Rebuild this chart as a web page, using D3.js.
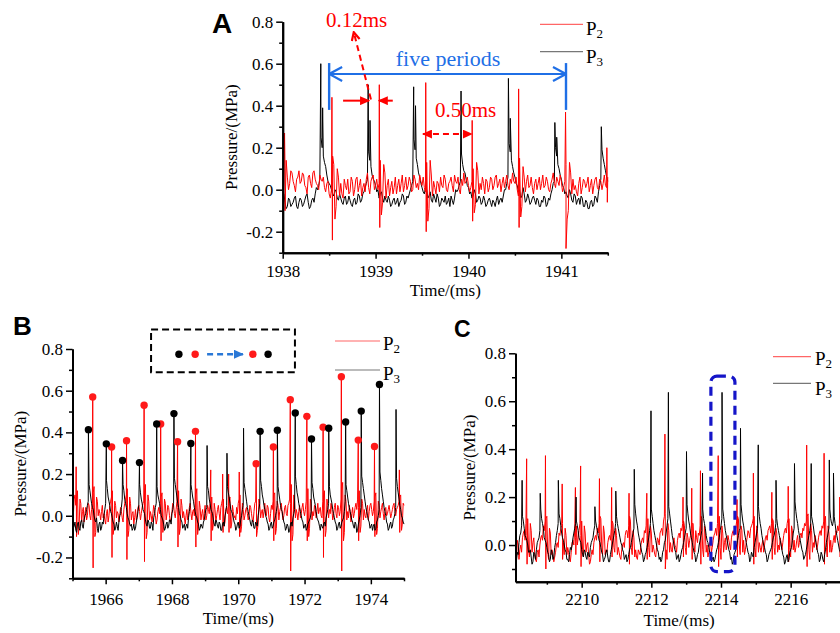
<!DOCTYPE html>
<html>
<head>
<meta charset="utf-8">
<script src="https://cdn.jsdelivr.net/npm/d3@7"></script>
<style>
  body { margin: 0; background: #fff; }
  svg { display: block; font-family: "Liberation Serif", serif; }
</style>
</head>
<body>
<svg id="chart" width="840" height="633"></svg>
<script>
// ---------- Panel A : 1938 - 1941.5 ms ----------
// samples in hundredths of MPa, one every aStep ms from aStart;
// *Mid arrays hold the samples half a step after each of those
const aStart = 1938, aStep = 0.025;
const aP3Base = [
  -3,-6,-8,-5,-7,-4,-8,-6,-5,-7,-3,-6,-8,-4,-2,0,
  5,20,13,7,3,
  0,-3,-1,-5,-4,-7,-3,-6,-5,-8,-4,-6,-3,-5,-1,
  3,18,11,5,2,
  0,-2,-4,-3,-6,-5,-7,-4,-6,-8,-5,-3,-6,-4,0,
  4,19,12,6,1,
  -2,0,-3,-5,-2,-6,-4,-7,-5,-3,-6,-8,-5,-4,-1,
  2,17,9,5,1,
  -1,-3,-2,-5,-4,-6,-5,-7,-4,-8,-6,-5,-7,-4,-3,0,
  6,18,11,6,2,
  0,-3,-2,-5,-4,-6,-3,-7,-5,-8,-6,-4,-7,-5,0,
  4,16,10,5,1,
  -1,-4,-2,-6,-3,-5,-7,-4,-8,-6,-9,-5,-7,-4,-1,
  5,15,9,4
];
const aP3Mid = [
  -2,-9,-4,-8,-6,-3,-9,-4,-8,-5,-2,-9,-5,-6,1,2,
  25,16,11,4,2,
  -2,0,-4,-2,-6,-4,-7,-3,-7,-5,-7,-2,-6,-2,1,
  5,14,7,4,-1,
  -4,-1,-6,-5,-3,-8,-5,-7,-4,-6,-2,-7,-3,-2,2,
  24,15,8,3,-1,
  1,-4,-1,-6,-4,-2,-8,-4,-6,-7,-4,-3,-7,0,0,
  4,12,8,2,-2,
  -4,0,-6,-3,-7,-3,-8,-5,-6,-5,-8,-3,-5,-6,0,3,
  22,14,8,3,-1,
  -4,1,-6,-2,-7,-4,-5,-4,-8,-5,-3,-8,-4,-2,3,
  20,12,7,2,-2,
  -3,0,-5,-2,-7,-4,-3,-8,-5,-9,-6,-8,-3,-6,2,
  19,12,6
];
const aP2Base = [
  -6,
  10,6,3,8,2,5,9,4,7,1,6,3,8,5,2,7,4,1,3,-2,
  0,12,-8,6,
  3,-4,2,5,-1,4,0,6,2,-3,3,5,1,4,7,2,0,
  14,-6,8,
  2,-3,4,1,-2,5,3,-1,6,2,4,0,5,3,7,2,1,
  13,-9,7,
  4,-2,3,6,1,5,-1,4,2,7,3,0,5,8,4,2,1,
  10,-7,9,
  3,6,-2,4,1,5,2,7,3,-1,6,4,2,5,8,3,0,
  15,-8,6,
  4,1,6,-2,5,3,0,7,2,4,-1,5,3,6,2,4,1,
  12,-10,8,
  5,2,-3,6,1,4,3,-1,5,2,6,0,4,3,2,
  6
];
const aP2Mid = [
  3,
  14,0,9,4,-1,6,3,8,2,-2,7,1,9,3,0,5,6,-1,4,-4,
  16,-14,10,-3,
  -2,5,0,-2,6,-3,5,-1,5,1,-1,8,-2,6,0,5,3,
  -12,12,-4,
  5,1,-2,6,2,-1,7,2,0,6,-1,7,1,0,4,6,-1,
  -15,14,-3,
  1,4,-1,2,7,0,3,6,-1,4,6,-2,2,3,6,-1,4,
  -11,13,-2,
  0,3,5,-1,6,0,6,1,5,3,1,7,0,3,4,6,-3,
  -13,11,-1,
  7,2,1,3,0,6,3,1,6,0,3,8,1,4,7,-1,4,
  -14,13,-2,
  0,-1,3,-2,5,1,6,2,-2,5,1,5,0,7,1
];
const aP3SpikeT = [1938.41, 1938.43, 1938.92, 1938.94, 1939.41, 1939.43, 1939.92, 1940.43, 1940.45, 1940.93, 1940.95, 1941.43];
const aP3SpikeV = [0.60, 0.39, 0.50, 0.33, 0.49, 0.40, 0.47, 0.53, 0.34, 0.32, 0.25, 0.30];
const aP2SpikeT = [1938.02, 1938.53, 1939.04, 1939.54, 1940.04, 1940.54, 1941.045, 1941.49];
const aP2SpikeV = [0.27, 0.44, 0.50, 0.51, 0.33, 0.48, 0.37, 0.20];
const aP2DipV   = [-0.10, -0.24, -0.18, -0.20, -0.15, -0.18, -0.28, -0.06];
const aXTicks = [1938, 1939, 1940, 1941];
const aXMinor = [1938.5, 1939.5, 1940.5, 1941.5];

// ---------- Panel B : 1965 - 1975 ms ----------
const bStart = 1965, bStep = 0.05;
const bP3Base = [
  -2,-5,-7,-4,-6,-3,-5,-2,1,
  5,15,9,4,0,
  -3,-6,-4,-7,-3,0,
  6,13,7,2,-1,
  -4,-6,-5,-3,1,
  8,12,6,1,-2,
  -5,-7,-4,-6,-1,
  5,11,6,2,-2,
  -5,-3,-6,-4,-1,
  4,14,8,3,-1,
  -4,-6,-3,-5,-2,1,
  6,15,9,4,0,
  -3,-5,-7,-4,-1,
  5,12,7,2,-1,
  -4,-6,-5,-3,1,
  4,12,6,2,-2,
  -5,-3,-6,-4,-7,-3,0,
  5,11,6,2,-1,
  -4,-6,-3,-5,0,
  5,13,7,2,-2,
  -5,-3,-6,-4,0,
  6,14,8,3,-1,
  -4,-6,-3,-5,-2,2,
  14,8,3,-1,
  -4,-6,-5,-7,-3,-1,3,
  15,9,4,0,
  -3,-5,-7,-4,-2,2,
  13,7,2,-2,
  -5,-4,-6,-3,-1,3,
  14,8,3,-1,
  -4,-6,-3,-5,-2,2,
  15,9,4,0,
  -3,-6,-4,-7,-2,4,
  16,10,4,0,
  -3,-5,-7,-4,-6,-2,3,
  17,10,4,0,
  -4,-6,-3,-5,-1,4,
  14,8,3,-1,-4
];
const bP3Mid = [
  -6,-3,-8,-3,-7,-2,-6,0,3,
  7,12,6,3,-2,
  -1,-8,-3,-6,-4,3,
  17,9,5,1,-3,
  -7,-3,-7,0,4,
  15,8,4,-1,-4,
  -4,-6,-7,-3,2,
  15,8,3,1,-4,
  -2,-6,-3,-7,1,
  6,10,6,0,-2,
  -7,-4,-6,-2,-4,3,
  18,12,6,1,-2,
  -6,-4,-5,-6,2,
  15,9,4,0,-3,
  -7,-4,-6,-2,3,
  14,8,3,1,-4,
  -2,-5,-3,-7,-4,-5,2,
  14,9,3,1,-3,
  -7,-4,-6,-2,3,
  16,10,4,0,-4,
  -2,-6,-3,-5,3,
  17,10,5,0,-3,
  -7,-4,-6,-3,0,5,
  11,5,2,-3,
  -7,-4,-8,-4,-5,1,19,
  11,6,2,-2,
  -6,-4,-6,-3,-1,16,
  9,5,-1,-3,
  -7,-5,-4,-5,1,6,
  10,6,1,-3,
  -7,-4,-6,-3,-1,7,
  12,6,2,-2,
  -5,-3,-8,-4,0,19,
  13,7,2,-2,
  -6,-4,-5,-7,-3,0,21,
  13,7,2,-3,
  -7,-4,-6,-2,1,18,
  11,5,0,-3
];
const bP2Base = [
  3,8,5,
  12,-5,6,
  2,-3,4,0,5,-2,6,
  14,-8,7,
  3,-2,5,1,-4,3,0,7,
  12,-6,5,
  2,-3,4,-1,3,8,
  13,-7,6,
  1,-4,3,0,5,-2,4,7,
  15,-8,7,
  2,-3,5,0,-2,4,6,
  11,-5,6,
  1,4,-3,2,5,-1,7,
  12,-6,5,
  2,-4,3,0,6,-2,3,6,
  13,-5,4,
  1,-2,5,0,3,6,
  9,-4,3,
  0,5,-2,6,
  8,-3,4,5,
  9,-4,2,
  0,4,6,
  10,-5,3,
  0,4,-2,5,1,-3,6,
  9,-4,5,
  2,-1,6,0,4,-3,5,7,
  11,-6,5,
  2,6,-2,4,1,5,8,
  15,-9,7,
  3,-2,5,1,6,0,7,
  13,-6,6,
  2,5,-1,6,3,0,7,
  12,-7,5,
  3,6,-2,4,1,5,0,8,
  16,-8,7,
  2,5,-3,4,1,6,8,
  12,-5,6,
  3,-1,5,2,6,0,7,
  11,-6,5,
  2,6,-2,4,1,5,-1,3,6,0,4,7,
  10,-4,5
];
const bP2Mid = [
  0,10,9,
  -9,8,-3,
  4,1,-2,6,0,3,11,
  -10,9,0,
  1,2,-1,-2,1,-3,5,9,
  -9,7,-1,
  1,0,2,-3,6,10,
  -10,9,-2,
  2,-1,-2,4,2,1,6,12,
  -11,10,-2,
  0,1,3,-4,2,1,9,
  -8,8,-2,
  5,0,-1,6,1,3,4,
  -9,8,-1,
  -1,0,-2,4,1,2,0,10,
  -9,7,-2,
  3,1,-2,5,1,3,
  -7,6,-3,
  3,1,4,8,
  -5,3,1,8,
  -6,5,-1,
  -2,1,8,
  -8,6,-2,
  3,1,0,4,-2,2,7,
  -7,8,-1,
  3,2,1,5,-1,1,3,10,
  -9,7,-2,
  4,1,0,5,0,6,6,
  -12,10,-1,
  1,2,-1,4,2,3,5,
  -10,8,-2,
  0,3,2,1,4,-1,10,
  -10,8,-1,
  1,3,0,6,-1,4,2,12,
  -12,10,-2,
  -1,2,1,-1,4,3,4,
  -8,8,-2,
  0,3,-2,5,3,2,9,
  -9,7,-1,
  4,1,2,0,3,2,1,5,2,3,5,9,
  -7,6
];
const bP3SpikeT = [1965.48, 1966.02, 1966.51, 1967.02, 1967.54, 1968.06, 1968.57, 1969.06, 1969.66, 1970.16,
                   1970.66, 1971.18, 1971.72, 1972.21, 1972.73, 1973.24, 1973.71, 1974.26, 1974.76];
const bP3SpikeV = [0.413, 0.345, 0.265, 0.255, 0.44, 0.49, 0.347, 0.337, 0.30, 0.42,
                   0.405, 0.41, 0.493, 0.368, 0.42, 0.45, 0.502, 0.63, 0.51];
const bP3Marked = [1, 1, 1, 1, 1, 1, 1, 0, 0, 0, 1, 1, 1, 1, 1, 1, 1, 1, 0];
const bP2SpikeT = [1965.11, 1965.61, 1966.18, 1966.63, 1967.16, 1967.66, 1968.17, 1968.71, 1969.17, 1969.53, 1969.71,
                   1970.03, 1970.54, 1971.06, 1971.57, 1972.07, 1972.56, 1973.11, 1973.62, 1974.11, 1974.86];
const bP2SpikeV = [0.235, 0.57, 0.33, 0.36, 0.53, 0.44, 0.355, 0.405, 0.22, 0.20, 0.20,
                   0.21, 0.25, 0.33, 0.557, 0.477, 0.425, 0.667, 0.363, 0.332, 0.22];
const bP2DipV   = [-0.10, -0.25, -0.20, -0.21, -0.22, -0.12, -0.15, -0.15, -0.12, -0.08, -0.08,
                   -0.10, -0.10, -0.12, -0.265, -0.12, -0.20, -0.265, -0.12, -0.10, -0.08];
const bP2Marked = [0, 1, 1, 1, 1, 1, 1, 1, 0, 0, 0, 0, 1, 1, 1, 1, 1, 1, 1, 1, 0];
const bXTicks = [1966, 1968, 1970, 1972, 1974];
const bXMinor = [1965, 1967, 1969, 1971, 1973, 1975];

// ---------- Panel C : 2208.1 - 2217.5 ms ----------
const cStart = 2208.1, cStep = 0.05;
const cP3Base = [
  -6,-3,1,5,
  12,7,3,0,-3,
  -5,-7,-4,-2,2,6,
  11,7,2,-1,-4,
  -6,-3,-5,1,6,
  13,8,3,0,-3,
  -6,-4,-2,3,7,
  10,6,2,-2,-5,
  -3,-6,-4,-1,2,6,
  10,6,2,-1,-4,
  -6,-3,-5,-7,-2,2,6,
  12,7,3,0,-3,
  -5,-7,-4,-1,3,7,
  13,8,3,-1,-4,
  -6,-3,1,6,
  15,9,4,0,-3,
  -5,-6,-2,2,8,
  16,10,4,0,-3,
  -5,-7,-4,-1,3,7,
  13,8,3,-1,-4,
  -6,-3,2,6,
  11,7,2,-1,-4,
  -6,-7,-4,-1,3,8,
  15,9,4,0,-3,
  -5,-7,-3,0,4,7,
  13,8,3,-1,-4,
  -6,-4,-1,3,7,
  12,7,2,-1,-4,
  -6,-3,-1,3,6,
  11,6,2,-2,-5,
  -7,-4,-6,-2,2,7,
  14,9,4,0,-3,
  -5,-2,2,6,
  12,8,3,-1,-4,
  -6,-4,-7,-2,3,7,
  11,8,
  12,6,2,-2,-5,-4
];
const cP3Mid = [
  -7,-4,4,8,
  10,4,2,-3,-2,
  -8,-3,-6,1,3,15,
  9,3,1,-3,-7,
  -2,-6,-1,4,9,
  11,5,2,-2,-6,
  -7,-1,0,5,9,
  8,3,1,-4,-2,
  -5,-3,-5,1,3,8,
  8,4,1,-3,-7,
  -5,-2,-7,-4,0,4,9,
  9,5,1,-2,-6,
  -4,-6,-2,1,5,17,
  10,5,1,-3,-7,
  -4,-1,3,9,
  12,6,2,-2,-6,
  -7,-3,1,5,11,
  13,7,2,-2,-6,
  -4,-6,-2,1,5,17,
  10,5,1,-3,-7,
  -4,0,4,15,
  9,4,1,-3,-7,
  -5,-6,-2,1,6,11,
  12,6,2,-2,-6,
  -8,-4,-2,2,6,17,
  10,5,1,-3,-7,
  -3,-5,1,5,16,
  9,4,0,-3,-7,
  -4,-2,1,4,9,
  8,4,0,-4,-8,
  -5,-7,-3,-1,5,18,
  11,6,2,-2,-6,
  -4,0,4,9,
  10,5,1,-3,-7,
  -3,-6,-4,1,5,15,
  9,10,
  9,4,0,-3,-7
];
const cP2Base = [
  -4,2,-6,0,3,6,9,
  11,-5,6,
  1,-3,-7,-2,0,4,8,10,
  12,-6,5,
  -2,-7,-3,1,5,7,
  9,-4,4,
  -1,-6,-3,2,6,
  8,3,9,
  10,-5,5,
  0,-4,-7,-2,1,4,7,9,
  11,-4,5,
  -2,1,4,7,
  9,-3,4,
  -1,-5,-2,1,4,6,8,
  10,-4,3,
  -2,-6,-3,0,3,6,8,
  11,-5,5,
  0,-4,-1,2,5,7,10,
  13,-6,6,
  1,-3,3,-1,2,5,7,9,
  8,-4,3,2,7,
  9,-3,3,5,8,
  11,-5,5,
  0,-3,2,-1,4,7,9,
  12,-6,5,
  1,-2,4,0,3,6,8,10,
  11,-4,6,
  2,-2,3,5,7,9,
  12,-5,5,
  1,-3,2,0,4,6,8,9,
  10,-4,5,
  0,3,-2,4,7,9,
  11,-5,6,
  2,-1,4,1,5,7,9,10,
  13,-6,6,
  1,4,-2,3,6,8,10,
  12,-5,5,
  2,-1,4,6,8,9,
  10,-3
];
const cP2Mid = [
  -7,0,-2,-3,5,2,4,
  -2,9,-3,
  3,-6,-3,-5,3,2,6,11,
  -3,7,-4,
  -4,-5,0,-1,4,8,
  1,7,-4,
  -3,-7,1,0,3,
  0,6,4,
  -2,8,-3,
  1,-8,-4,-4,3,2,5,12,
  0,8,-4,
  -3,3,2,10,
  -1,7,-4,
  -3,-6,0,-1,6,3,12,
  -1,6,-5,
  -5,-2,-4,2,1,5,4,
  -1,8,-3,
  -2,-5,3,0,6,4,12,
  -2,9,-3,
  -2,1,0,-3,4,3,6,10,
  -1,5,-1,4,9,
  0,6,1,4,12,
  -2,8,-3,
  -5,1,-3,2,5,4,5,
  -1,8,-3,
  3,0,2,-2,5,4,7,12,
  0,8,-3,
  -4,1,6,3,8,11,
  -1,8,-3,
  -1,0,-3,3,2,7,5,11,
  -1,7,-3,
  -2,1,1,6,5,11,
  -1,8,-2,
  -3,2,-1,4,3,6,8,12,
  -2,9,-3,
  -1,2,0,5,4,7,11,
  -1,8,-3,
  -3,2,1,5,6,11,
  2
];
const cP3SpikeT = [2208.29, 2208.81, 2209.33, 2209.84, 2210.38, 2210.98, 2211.51, 2211.99, 2212.49, 2213.01,
                   2213.47, 2214.03, 2214.56, 2215.07, 2215.58, 2216.11, 2216.59, 2217.11, 2217.23];
const cP3SpikeV = [0.27, 0.216, 0.27, 0.20, 0.16, 0.225, 0.316, 0.56, 0.637, 0.39,
                   0.30, 0.637, 0.487, 0.418, 0.27, 0.34, 0.34, 0.355, 0.30];
const cP2SpikeT = [2208.42, 2208.96, 2209.44, 2209.82, 2209.97, 2210.51, 2210.86, 2211.36, 2211.87, 2212.39,
                   2212.91, 2213.16, 2213.41, 2213.92, 2214.46, 2214.93, 2215.46, 2215.93, 2216.46, 2216.96, 2217.41];
const cP2SpikeV = [0.36, 0.373, 0.255, 0.24, 0.33, 0.277, 0.24, 0.216, 0.216, 0.463,
                   0.20, 0.237, 0.31, 0.373, 0.19, 0.30, 0.22, 0.245, 0.417, 0.383, 0.20];
const cP2DipV   = [-0.08, -0.10, -0.06, -0.04, -0.09, -0.07, -0.05, -0.08, -0.06, -0.10,
                   -0.05, -0.06, -0.08, -0.09, -0.05, -0.08, -0.06, -0.07, -0.09, -0.08, -0.05];
const cXTicks = [2210, 2212, 2214, 2216];
const cXMinor = [2209, 2211, 2213, 2215, 2217];

const yTicksAB = [-0.2, 0, 0.2, 0.4, 0.6, 0.8];
const yMinorAB = [-0.3, -0.1, 0.1, 0.3, 0.5, 0.7];
const yTicksC = [0, 0.2, 0.4, 0.6, 0.8];
const yMinorC = [-0.1, 0.1, 0.3, 0.5, 0.7];
const seriesNames = ["2", "3"];   // P2, P3 subscripts

const RED = "#ff0000", BLACK = "#000", BLUE = "#1f6fe6", SERIF = "'Liberation Serif', serif";

const svg = d3.select("#chart");
svg.append("rect").attr("width", 840).attr("height", 633).attr("fill", "#fff");
const defs = svg.append("defs");

function addMarker(id, path, w, h, refX, color, filled) {
  defs.append("marker").attr("id", id)
    .attr("viewBox", `0 0 ${w} ${h}`)
    .attr("markerWidth", w).attr("markerHeight", h)
    .attr("markerUnits", "userSpaceOnUse")
    .attr("refX", refX).attr("refY", h / 2)
    .attr("orient", "auto-start-reverse")
    .append("path").attr("d", path)
    .attr("fill", filled ? color : "none")
    .attr("stroke", filled ? "none" : color)
    .attr("stroke-width", 2.2);
}
addMarker("blueChevron", "M1,1 L14,8 L1,15", 15, 16, 14, BLUE, false);
addMarker("redTri", "M0,0 L10,4.5 L0,9 Z", 10, 9, 9, RED, true);
addMarker("redChevron", "M1,1 L9,5 L1,9", 10, 10, 9, RED, false);
addMarker("blueTri", "M0,0 L10,4.5 L0,9 Z", 10, 9, 9, "#2a78d6", true);

// merge the sample arrays with spike tops (and the dip right after a spike)
function buildTrace(start, step, base, mid, spikeT, spikeV, dipV, gap) {
  const pts = base.map((v, i) => [start + i * step, v / 100]);
  mid.forEach((v, i) => pts.push([start + (i + 0.5) * step, v / 100]));
  spikeT.forEach((t, i) => {
    pts.push([t, spikeV[i]]);
    if (dipV) pts.push([t + gap, dipV[i]]);
  });
  return pts.sort((a, b) => a[0] - b[0]);
}

function styleAxis(sel) {
  sel.select(".domain").attr("stroke", "#000").attr("stroke-width", 2);
  sel.selectAll(".tick line").attr("stroke", "#000").attr("stroke-width", 1.5);
  sel.selectAll("text").attr("font-family", SERIF).attr("font-size", 17).attr("fill", "#000");
}

function drawPanel(p) {
  const x = d3.scaleLinear().domain(p.xDomain).range(p.xRange);
  const y = d3.scaleLinear().domain(p.yDomain).range(p.yRange);
  const g = svg.append("g");

  defs.append("clipPath").attr("id", "clip-" + p.id).append("rect")
    .attr("x", p.xRange[0] + 1).attr("y", p.yRange[1] - 30)
    .attr("width", p.xRange[1] - p.xRange[0]).attr("height", p.yRange[0] - p.yRange[1] + 29);

  const line = d3.line().x(d => x(d[0])).y(d => y(d[1]));
  const plot = g.append("g").attr("clip-path", `url(#clip-${p.id})`);
  p.traces.forEach(tr => {
    plot.append("path").datum(tr.points).attr("d", line)
      .attr("fill", "none").attr("stroke", tr.color).attr("stroke-width", 1)
      .attr("stroke-linejoin", "round");
  });

  // axes
  const fmt = d => d.toFixed(1);
  g.append("g").attr("transform", `translate(0,${p.yRange[0]})`)
    .call(d3.axisBottom(x).tickValues(p.xMinor).tickSize(3).tickSizeOuter(0).tickFormat(""))
    .call(styleAxis);
  g.append("g").attr("transform", `translate(0,${p.yRange[0]})`)
    .call(d3.axisBottom(x).tickValues(p.xTicks).tickSize(6).tickSizeOuter(0).tickPadding(p.xPad).tickFormat(d3.format("d")))
    .call(styleAxis);
  g.append("g").attr("transform", `translate(${p.xRange[0]},0)`)
    .call(d3.axisLeft(y).tickValues(p.yMinor).tickSize(3.5).tickSizeOuter(0).tickFormat(""))
    .call(styleAxis);
  g.append("g").attr("transform", `translate(${p.xRange[0]},0)`)
    .call(d3.axisLeft(y).tickValues(p.yTicks).tickSize(6.5).tickSizeOuter(0).tickPadding(3).tickFormat(fmt))
    .call(styleAxis);

  g.append("text")
    .attr("x", (p.xRange[0] + Math.min(p.xRange[1], 842.9)) / 2)
    .attr("y", p.yRange[0] + p.xTitleGap)
    .attr("text-anchor", "middle").attr("font-family", SERIF).attr("font-size", 17)
    .text("Time/(ms)");
  g.append("text")
    .attr("transform", `translate(${p.yTitleX},${(p.yRange[0] + p.yRange[1]) / 2}) rotate(-90)`)
    .attr("text-anchor", "middle").attr("font-family", SERIF).attr("font-size", 17)
    .text("Pressure/(MPa)");

  g.append("text").attr("x", p.letter[1]).attr("y", p.letter[2])
    .attr("font-family", "'Liberation Sans', Arial, sans-serif").attr("font-weight", "bold")
    .attr("font-size", p.letter[3]).text(p.letter[0]);

  // legend: P2 (red) and P3 (black)
  const lg = p.legend;
  [RED, "#555"].forEach((c, i) => {
    g.append("line").attr("x1", lg.x1).attr("x2", lg.x2).attr("y1", lg.lineY[i]).attr("y2", lg.lineY[i])
      .attr("stroke", c).attr("stroke-width", 1.2).attr("stroke-opacity", i === 0 ? 0.6 : 0.8);
    const t = g.append("text").attr("x", lg.textX).attr("y", lg.textY[i])
      .attr("font-family", SERIF).attr("font-size", 19).text("P");
    t.append("tspan").attr("font-size", 13).attr("dy", 3).text(seriesNames[i]);
  });
  return { x, y, g };
}

// ---------------- Panel A ----------------
const aP3 = buildTrace(aStart, aStep, aP3Base, aP3Mid, aP3SpikeT, aP3SpikeV, null, 0);
const aP2 = buildTrace(aStart, aStep, aP2Base, aP2Mid, aP2SpikeT, aP2SpikeV, aP2DipV, 0.005);
const A = drawPanel({
  id: "a", xDomain: [1938, 1941.5], xRange: [282.7, 607.8],
  yDomain: [-0.3, 0.8], yRange: [252.7, 21.7],
  xTicks: aXTicks, xMinor: aXMinor, yTicks: yTicksAB, yMinor: yMinorAB,
  xPad: 6, xTitleGap: 43.5, yTitleX: 237,
  traces: [{ points: aP3, color: BLACK }, { points: aP2, color: RED }],
  letter: ["A", 212, 33, 28],
  legend: { x1: 540, x2: 583, lineY: [24.3, 51.7], textX: 586, textY: [35, 63] }
});

// five periods annotation
const fpY = A.y(0.551);
A.g.append("line").attr("x1", A.x(1938.5)).attr("x2", A.x(1941.05)).attr("y1", fpY).attr("y2", fpY)
  .attr("stroke", BLUE).attr("stroke-width", 2.2)
  .attr("marker-start", "url(#blueChevron)").attr("marker-end", "url(#blueChevron)");
[1938.5, 1941.05].forEach(t => {
  A.g.append("line").attr("x1", A.x(t)).attr("x2", A.x(t)).attr("y1", A.y(0.603)).attr("y2", A.y(0.38))
    .attr("stroke", BLUE).attr("stroke-width", 2.4);
});
A.g.append("text").attr("x", A.x(1939.78)).attr("y", A.y(0.59)).attr("text-anchor", "middle")
  .attr("fill", BLUE).attr("font-family", SERIF).attr("font-size", 22).text("five periods");

// 0.12 ms delay annotation
A.g.append("line").attr("x1", A.x(1938.95)).attr("y1", A.y(0.43)).attr("x2", A.x(1938.765)).attr("y2", A.y(0.75))
  .attr("stroke", RED).attr("stroke-width", 2).attr("stroke-dasharray", "6,4")
  .attr("marker-end", "url(#redChevron)");
A.g.append("line").attr("x1", A.x(1938.65)).attr("x2", A.x(1938.93)).attr("y1", A.y(0.424)).attr("y2", A.y(0.424))
  .attr("stroke", RED).attr("stroke-width", 2).attr("marker-end", "url(#redTri)");
A.g.append("line").attr("x1", A.x(1939.185)).attr("x2", A.x(1939.035)).attr("y1", A.y(0.424)).attr("y2", A.y(0.424))
  .attr("stroke", RED).attr("stroke-width", 2).attr("marker-end", "url(#redTri)");
A.g.append("text").attr("x", A.x(1938.465)).attr("y", A.y(0.773))
  .attr("fill", RED).attr("font-family", SERIF).attr("font-size", 21).text("0.12ms");

// 0.50 ms period annotation
A.g.append("text").attr("x", A.x(1939.64)).attr("y", A.y(0.345))
  .attr("fill", RED).attr("font-family", SERIF).attr("font-size", 21).text("0.50ms");
A.g.append("line").attr("x1", A.x(1939.51)).attr("x2", A.x(1940.035)).attr("y1", A.y(0.265)).attr("y2", A.y(0.265))
  .attr("stroke", RED).attr("stroke-width", 2).attr("stroke-dasharray", "6,4")
  .attr("marker-start", "url(#redTri)").attr("marker-end", "url(#redTri)");

// ---------------- Panel B ----------------
const bP3 = buildTrace(bStart, bStep, bP3Base, bP3Mid, bP3SpikeT, bP3SpikeV, null, 0);
const bP2 = buildTrace(bStart, bStep, bP2Base, bP2Mid, bP2SpikeT, bP2SpikeV, bP2DipV, 0.012);
const B = drawPanel({
  id: "b", xDomain: [1965, 1975], xRange: [72.5, 404],
  yDomain: [-0.3, 0.8], yRange: [578.3, 349],
  xTicks: bXTicks, xMinor: bXMinor, yTicks: yTicksAB, yMinor: yMinorAB,
  xPad: 8.5, xTitleGap: 45.5, yTitleX: 26,
  traces: [{ points: bP2, color: RED }, { points: bP3, color: BLACK }],
  letter: ["B", 13, 335, 26],
  legend: { x1: 335, x2: 380, lineY: [341, 370], textX: 383, textY: [350, 380] }
});

const bDots = [
  ...bP2SpikeT.map((t, i) => ({ t, v: bP2SpikeV[i], m: bP2Marked[i], c: "#ff1a1a" })),
  ...bP3SpikeT.map((t, i) => ({ t, v: bP3SpikeV[i], m: bP3Marked[i], c: "#000" }))
].filter(d => d.m);
B.g.selectAll("circle.peak").data(bDots).enter().append("circle")
  .attr("class", "peak")
  .attr("cx", d => B.x(d.t)).attr("cy", d => B.y(d.v)).attr("r", 3.7)
  .attr("fill", d => d.c);

// dashed key box: black red --> red black
B.g.append("rect")
  .attr("x", B.x(1967.37)).attr("y", B.y(0.894))
  .attr("width", B.x(1971.71) - B.x(1967.37)).attr("height", B.y(0.688) - B.y(0.894))
  .attr("fill", "none").attr("stroke", "#000").attr("stroke-width", 2).attr("stroke-dasharray", "7,4");
const keyDots = [[1968.21, "#000"], [1968.70, "#ff1a1a"], [1970.44, "#ff1a1a"], [1970.90, "#000"]];
keyDots.forEach(([t, c]) => {
  B.g.append("circle").attr("cx", B.x(t)).attr("cy", B.y(0.775)).attr("r", 3.7).attr("fill", c);
});
B.g.append("line").attr("x1", B.x(1969.06)).attr("x2", B.x(1970.14)).attr("y1", B.y(0.775)).attr("y2", B.y(0.775))
  .attr("stroke", "#2a78d6").attr("stroke-width", 2.4).attr("stroke-dasharray", "6,4")
  .attr("marker-end", "url(#blueTri)");

// ---------------- Panel C ----------------
const cP3 = buildTrace(cStart, cStep, cP3Base, cP3Mid, cP3SpikeT, cP3SpikeV, null, 0);
const cP2 = buildTrace(cStart, cStep, cP2Base, cP2Mid, cP2SpikeT, cP2SpikeV, cP2DipV, 0.012);
const C = drawPanel({
  id: "c", xDomain: [2208.1, 2217.5], xRange: [515.5, 842.9],
  yDomain: [-0.153, 0.8], yRange: [581.7, 353.3],
  xTicks: cXTicks, xMinor: cXMinor, yTicks: yTicksC, yMinor: yMinorC,
  xPad: 5, xTitleGap: 44.5, yTitleX: 475,
  traces: [{ points: cP2, color: RED }, { points: cP3, color: BLACK }],
  letter: ["C", 454, 337, 23],
  legend: { x1: 773, x2: 811, lineY: [356.7, 383.3], textX: 815, textY: [365, 395] }
});

C.g.append("rect")
  .attr("x", C.x(2213.71)).attr("y", C.y(0.705))
  .attr("width", C.x(2214.40) - C.x(2213.71)).attr("height", C.y(-0.111) - C.y(0.705))
  .attr("rx", 6).attr("fill", "none").attr("stroke", "#1515c8")
  .attr("stroke-width", 3.2).attr("stroke-dasharray", "9,6");
</script>
</body>
</html>
